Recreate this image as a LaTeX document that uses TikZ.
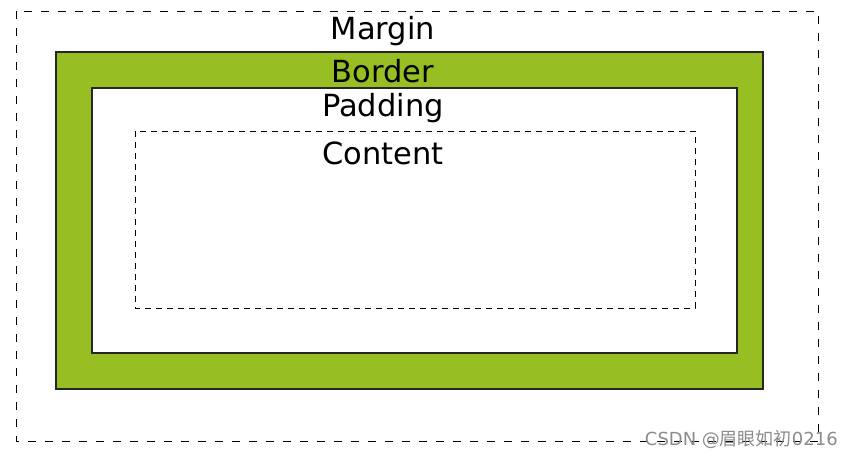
\documentclass[tikz,border=0pt]{standalone}
\usepackage{fontspec}
\setmainfont{DejaVu Sans}
\newfontfamily\cjk{Noto Sans CJK SC}
\definecolor{bordergreen}{HTML}{97BF23}
\definecolor{wmgray}{HTML}{8C8C8C}
\begin{document}
\begin{tikzpicture}[x=1pt,y=-1pt,
  lbl/.style={font=\fontsize{30.5}{33}\selectfont, inner sep=0pt, anchor=center},
  dashbox/.style={draw=black, line width=1pt, dash pattern=on 8pt off 9pt},
  solidbox/.style={draw=black!85, line width=1.3pt}]
\useasboundingbox (0,0) rectangle (854,459);
\draw[dashbox] (16,11) rectangle (818,441);
\filldraw[solidbox, fill=bordergreen] (56,52) rectangle (763,389);
\filldraw[solidbox, fill=white] (92,88) rectangle (737,353);
\draw[dashbox, dash pattern=on 6pt off 5pt] (135,131) rectangle (695,308);
\node[lbl] (margin) at (383,31) {Margin};
\node[lbl] (border) at (383,71) {Border};
\node[lbl] (padding) at (383,108) {Padding};
\node[lbl] (content) at (383,153) {Content};
\node[font=\fontsize{18}{21}\selectfont, text=wmgray, inner sep=0pt, anchor=east] (wm) at (838,439) {CSDN @{\cjk 眉眼如初}0216};
\end{tikzpicture}
\end{document}
